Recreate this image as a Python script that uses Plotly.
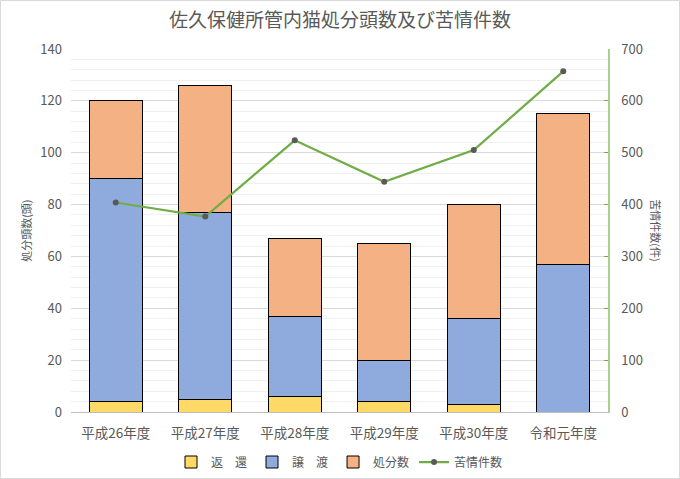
import plotly.graph_objects as go

categories = ["平成26年度", "平成27年度", "平成28年度", "平成29年度", "平成30年度", "令和元年度"]
henkan = [4, 5, 6, 4, 3, 0]
joto = [86, 72, 31, 16, 33, 57]
shobun = [30, 49, 30, 45, 44, 58]
kujo = [404, 377, 524, 444, 505, 657]

FONT = "Noto Sans CJK JP"
GRAY = "#595959"

fig = go.Figure()
fig.add_trace(go.Bar(x=categories, y=henkan, name="返　還",
                     marker=dict(color="#FFD966", line=dict(color="black", width=1))))
fig.add_trace(go.Bar(x=categories, y=joto, name="譲　渡",
                     marker=dict(color="#8FAADC", line=dict(color="black", width=1))))
fig.add_trace(go.Bar(x=categories, y=shobun, name="処分数",
                     marker=dict(color="#F4B183", line=dict(color="black", width=1))))
fig.add_trace(go.Scatter(x=categories, y=kujo, name="苦情件数", yaxis="y2",
                         mode="lines+markers",
                         line=dict(color="#70AD47", width=2.25),
                         marker=dict(color=GRAY, size=6)))

fig.update_layout(
    barmode="stack",
    bargap=0.41,
    width=680, height=479,
    margin=dict(l=71, r=72, t=49, b=67, autoexpand=False),
    paper_bgcolor="white", plot_bgcolor="white",
    font=dict(family=FONT, color=GRAY, size=13),
    title=dict(text="佐久保健所管内猫処分頭数及び苦情件数", x=0.5, xanchor="center",
               y=0.958, yanchor="middle", font=dict(size=19, color=GRAY, family=FONT)),
    xaxis=dict(showline=True, linecolor="#BFBFBF", linewidth=1, ticks="",
               ticklabelstandoff=9,
               tickfont=dict(size=13.5, color=GRAY)),
    yaxis=dict(range=[0, 140], dtick=20, showgrid=True, gridcolor="#D9D9D9", gridwidth=1,
               minor=dict(dtick=4, showgrid=True, gridcolor="#F0F0F0", gridwidth=1),
               zeroline=False, showline=False, ticks="", ticklabelstandoff=8,
               tickfont=dict(size=13, color=GRAY)),
    yaxis2=dict(range=[0, 700], dtick=100, overlaying="y", side="right", showgrid=False,
                zeroline=False, showline=True, linecolor="#A9D18E", linewidth=1.5,
                ticks="inside", ticklen=4, tickcolor="#70AD47", ticklabelstandoff=9,
                tickfont=dict(size=13, color=GRAY)),
    legend=dict(orientation="h", x=0.5, xanchor="center", yref="container",
                y=1 - 462 / 479, yanchor="middle",
                font=dict(size=12, color=GRAY), traceorder="normal",
                itemwidth=30),
    showlegend=True,
    annotations=[
        dict(text="処分頭数(頭)", xref="paper", yref="paper", x=-0.085, y=0.5,
             textangle=-90, showarrow=False, font=dict(size=11, color=GRAY),
             xanchor="center", yanchor="middle"),
        dict(text="苦情件数(件)", xref="paper", yref="paper", x=1.09, y=0.5,
             textangle=90, showarrow=False, font=dict(size=11, color=GRAY),
             xanchor="center", yanchor="middle"),
    ],
    shapes=[dict(type="rect", xref="paper", yref="paper",
                 x0=-70.5/537, x1=1 + 71.5/537, y0=-66.5/363, y1=1 + 48.5/363,
                 line=dict(color="#D9D9D9", width=1), layer="below")],
)

fig.write_html("out.html")
